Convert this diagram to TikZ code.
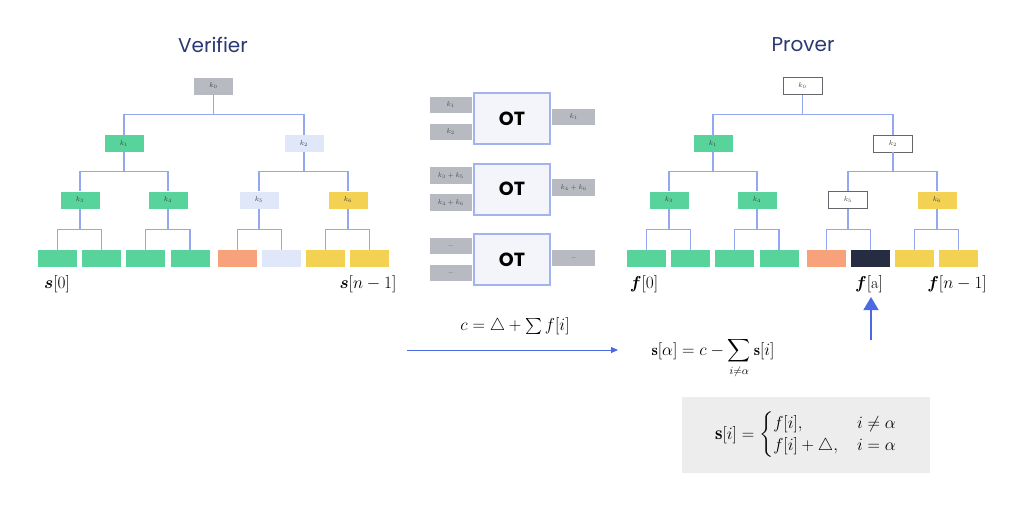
\documentclass[tikz,border=0pt]{standalone}
\usepackage{amsmath,amssymb,bm}
\usepackage{fontspec}
\setsansfont{Poppins}
\usetikzlibrary{calc,arrows.meta}

\definecolor{keygreen}{HTML}{57D39B}
\definecolor{keyblue}{HTML}{DFE7F8}
\definecolor{keygray}{HTML}{B8BAC1}
\definecolor{keyyellow}{HTML}{F3D152}
\definecolor{keyorange}{HTML}{F8A27C}
\definecolor{keynavy}{HTML}{262D43}
\definecolor{keyedge}{HTML}{66666C}
\definecolor{treeline}{HTML}{93A8F0}
\definecolor{titlenavy}{HTML}{2B3872}
\definecolor{otborder}{HTML}{A3B3F1}
\definecolor{otfill}{HTML}{F4F5FA}
\definecolor{arrowblue}{HTML}{4A69E2}
\definecolor{panelgray}{HTML}{EDEDEE}

\tikzset{
  key/.style={minimum width=39, minimum height=17, inner sep=0pt, line width=0.9pt,
    font=\fontsize{7}{7}\selectfont, text=black!75},
  leaf/.style={minimum width=39, minimum height=17, inner sep=0pt},
  branch/.style={treeline, line width=1.1pt},
  title/.style={font=\sffamily\fontsize{20}{20}\selectfont, text=titlenavy},
  otbox/.style={draw=otborder, line width=2pt, fill=otfill, minimum width=76, minimum height=51,
    inner sep=0pt, font=\sffamily\bfseries\fontsize{19}{19}\selectfont},
  otport/.style={fill=keygray, minimum width=42, minimum height=16.5, inner sep=0pt,
    font=\fontsize{7}{7}\selectfont, text=black!70},
  leaflabel/.style={font=\fontsize{16}{16}\selectfont},
  formula/.style={font=\fontsize{16}{16}\selectfont}
}

\begin{document}
\begin{tikzpicture}[x=1pt, y=-1pt]
  \useasboundingbox[fill=white] (0,0) rectangle (1024,509);

  % verifier tree
  \node[title] (vtitle) at (213,45) {Verifier};
  \foreach \n/\x/\y/\f in {0/213.5/86/keygray, 1/124/143.5/keygreen, 2/304/143.5/keyblue,
      3/80/200/keygreen, 4/168/200/keygreen, 5/259/200/keyblue, 6/348/200/keyyellow}
    \node[key, fill=\f] (v\n) at (\x,\y) {$k_{\n}$};
  \foreach \n/\x/\f in {7/57.5/keygreen, 8/101.5/keygreen, 9/145.5/keygreen, 10/190/keygreen,
      11/237.5/keyorange, 12/281.5/keyblue, 13/325.5/keyyellow, 14/369.5/keyyellow}
    \node[leaf, fill=\f] (v\n) at (\x,258.5) {};
  \foreach \p/\c in {0/1,0/2,1/3,1/4,2/5,2/6,3/7,3/8,4/9,4/10,5/11,5/12,6/13,6/14}
    \draw[branch] (v\p.south) |- ($(v\p.south)!.5!(v\c.north)$) -| (v\c.north);
  \node[leaflabel] (vfirst) at (57,284) {$\bm{s}[0]$};
  \node[leaflabel] (vlast) at (368,284) {$\bm{s}[n-1]$};

  % prover tree
  \begin{scope}[xshift=589]
    \node[title] (ptitle) at (214,45) {Prover};
    \foreach \n/\x/\y/\f/\d in {0/213.5/86/white/keyedge, 1/124/143.5/keygreen/none,
        2/304/143.5/white/keyedge, 3/80/200/keygreen/none, 4/168/200/keygreen/none,
        5/259/200/white/keyedge, 6/348/200/keyyellow/none}
      \node[key, fill=\f, draw=\d] (p\n) at (\x,\y) {$k_{\n}$};
    \foreach \n/\x/\f in {7/57.5/keygreen, 8/101.5/keygreen, 9/145.5/keygreen, 10/190/keygreen,
        11/237.5/keyorange, 12/281.5/keynavy, 13/325.5/keyyellow, 14/369.5/keyyellow}
      \node[leaf, fill=\f] (p\n) at (\x,258.5) {};
    \foreach \p/\c in {0/1,0/2,1/3,1/4,2/5,2/6,3/7,3/8,4/9,4/10,5/11,5/12,6/13,6/14}
      \draw[branch] (p\p.south) |- ($(p\p.south)!.5!(p\c.north)$) -| (p\c.north);
    \node[leaflabel] (pfirst) at (55,284) {$\bm{f}[0]$};
    \node[leaflabel] (pfa) at (280,284) {$\bm{f}[\mathrm{a}]$};
    \node[leaflabel] (plast) at (368,284) {$\bm{f}[n-1]$};
  \end{scope}

  % oblivious transfer boxes
  \foreach \i/\y/\ina/\inb/\out in {1/118.5/$k_1$/$k_2$/$k_1$,
      2/189/$k_3+k_5$/$k_4+k_6$/$k_4+k_6$, 3/259.5/\ldots/\ldots/\ldots} {
    \node[otbox] (ot\i) at (512,\y) {OT};
    \node[otport, anchor=east] (ot\i a) at ($(ot\i.west)+(-1,-13.5)$) {\ina};
    \node[otport, anchor=east] (ot\i b) at ($(ot\i.west)+(-1,13.5)$) {\inb};
    \node[otport, anchor=west, minimum width=43] (ot\i c) at ($(ot\i.east)+(1,-1.5)$) {\out};
  }

  % sending c
  \coordinate (sendstart) at (407,350);
  \coordinate (sendend) at (618,350);
  \draw[arrowblue, line width=0.9pt, -{Triangle[length=7pt, width=6pt]}] (sendstart) -- (sendend);
  \node[formula] (csum) at (515,326) {$c = \bigtriangleup + \sum f[i]$};
  \node[formula] (salpha) at (713,358) {$\mathbf{s}[\alpha] = c - \displaystyle\sum_{i\neq\alpha} \mathbf{s}[i]$};

  % pointing at f[a]
  \coordinate (fbot) at (871,340);
  \coordinate (ftip) at (871,297);
  \draw[arrowblue, line width=1.4pt, -{Triangle[length=13pt, width=15pt]}] (fbot) -- (ftip);

  % recovered seeds
  \node[fill=panelgray, minimum width=248, minimum height=76, inner sep=0pt,
    font=\fontsize{19}{19}\selectfont] (cases) at (806,435)
    {$\mathbf{s}[i] = \begin{cases} f[i], & i \neq \alpha \\ f[i] + \bigtriangleup, & i = \alpha \end{cases}$};
\end{tikzpicture}
\end{document}
